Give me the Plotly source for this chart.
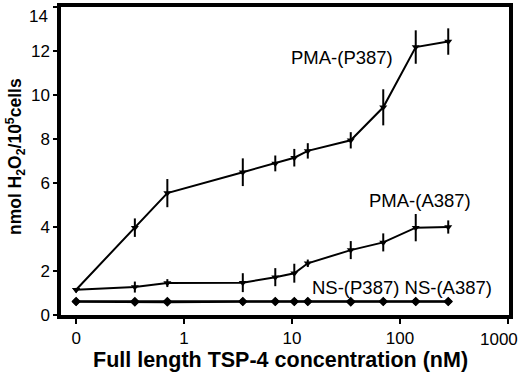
import plotly.graph_objects as go

# concentration (nM); 0 is drawn at the "0" position of the log axis (0.1)
conc = [0, 0.35, 0.7, 3.5, 7, 10.5, 14, 35, 70, 140, 280]
pma_p387 = [1.15, 3.97, 5.54, 6.49, 6.89, 7.15, 7.46, 7.94, 9.44, 12.18, 12.43]
pma_p387_err = [0.08, 0.42, 0.64, 0.63, 0.36, 0.40, 0.35, 0.37, 0.82, 0.76, 0.60]
pma_a387 = [1.15, 1.27, 1.45, 1.47, 1.72, 1.90, 2.35, 2.95, 3.30, 3.97, 4.00]
pma_a387_err = [0.05, 0.25, 0.18, 0.43, 0.41, 0.43, 0.17, 0.41, 0.41, 0.62, 0.30]
ns_p387 = [0.62, 0.62, 0.62, 0.62, 0.62, 0.62, 0.62, 0.62, 0.62, 0.62, 0.62]
ns_a387 = [0.60, 0.58, 0.58, 0.60, 0.60, 0.60, 0.60, 0.58, 0.60, 0.60, 0.60]

x_tickvals = [0.1, 1, 10, 100, 1000]
x_ticktext = ["0", "1", "10", "100", ""]
y_tickvals = [0, 2, 4, 6, 8, 10, 12, 14]
y_ticktext = ["0", "2", "4", "6", "8", "10", "12", ""]

xplot = [c if c > 0 else 0.1 for c in conc]

W, H = 520, 381
L, R, T, B = 61, 11, 3, 66
PW, PH = W - L - R, H - T - B


def px(x):
    return (x - L) / PW


def py(y):
    return (H - B - y) / PH


FONT = "Liberation Sans, Arial, sans-serif"

fig = go.Figure()

for ys, err in [(pma_p387, pma_p387_err), (pma_a387, pma_a387_err)]:
    fig.add_trace(go.Scatter(
        x=xplot, y=ys, mode="lines+markers",
        line=dict(color="black", width=2),
        marker=dict(symbol="triangle-down", size=7, color="black"),
        error_y=dict(type="data", array=err, visible=True, color="black",
                     thickness=2, width=0),
        showlegend=False,
    ))

for ys in [ns_p387, ns_a387]:
    fig.add_trace(go.Scatter(
        x=xplot, y=ys, mode="lines+markers",
        line=dict(color="black", width=2),
        marker=dict(symbol="diamond", size=7, color="black"),
        showlegend=False,
    ))

ann = [
    dict(text="PMA-(P387)", x=px(342), y=py(54), size=18.5),
    dict(text="PMA-(A387)", x=px(420), y=py(199), size=18.5),
    dict(text="NS-(P387) NS-(A387)", x=px(402), y=py(287), size=18.5),
    dict(text="1000", x=px(499), y=py(340), size=17),
]
annotations = [dict(text=a["text"], x=a["x"], y=a["y"], xref="paper", yref="paper",
                    showarrow=False, xanchor="center", yanchor="middle",
                    font=dict(family=FONT, size=a["size"], color="black"))
               for a in ann]
annotations.append(dict(text="14", x=px(50), y=py(13), xref="paper", yref="paper",
                        showarrow=False, xanchor="right", yanchor="middle",
                        font=dict(family=FONT, size=17, color="black")))
annotations.append(dict(text="<b>Full length TSP-4 concentration (nM)</b>",
                        x=px(280), y=py(361), xref="paper", yref="paper",
                        showarrow=False, xanchor="center", yanchor="middle",
                        font=dict(family=FONT, size=21.5, color="black")))
annotations.append(dict(text="<b>nmol H<sub>2</sub>O<sub>2</sub>/10<sup>5</sup>cells</b>",
                        x=px(15), y=py(155), xref="paper", yref="paper",
                        showarrow=False, xanchor="center", yanchor="middle",
                        textangle=-90,
                        font=dict(family=FONT, size=17.5, color="black")))

fig.update_layout(
    width=W, height=H,
    margin=dict(l=L, r=R, t=T, b=B),
    plot_bgcolor="white", paper_bgcolor="white",
    font=dict(family=FONT, size=17, color="black"),
    annotations=annotations,
    xaxis=dict(type="log", range=[-1.14, 3.01], tickvals=x_tickvals,
               ticktext=x_ticktext, showgrid=False, zeroline=False,
               showline=True, linecolor="black", linewidth=3.5, mirror=True,
               ticks="outside", ticklen=5, tickwidth=2, tickcolor="black",
               tickfont=dict(size=17)),
    yaxis=dict(range=[0, 14], tickvals=y_tickvals, ticktext=y_ticktext,
               showgrid=False, zeroline=False, showline=True, linecolor="black",
               linewidth=3.5, mirror=True, ticks="outside", ticklen=4,
               tickwidth=2, tickcolor="black", tickfont=dict(size=17)),
)

fig.write_html("out.html",
               config={"displayModeBar": False},
               post_script="document.body.style.margin='0';document.body.style.overflow='hidden';")
